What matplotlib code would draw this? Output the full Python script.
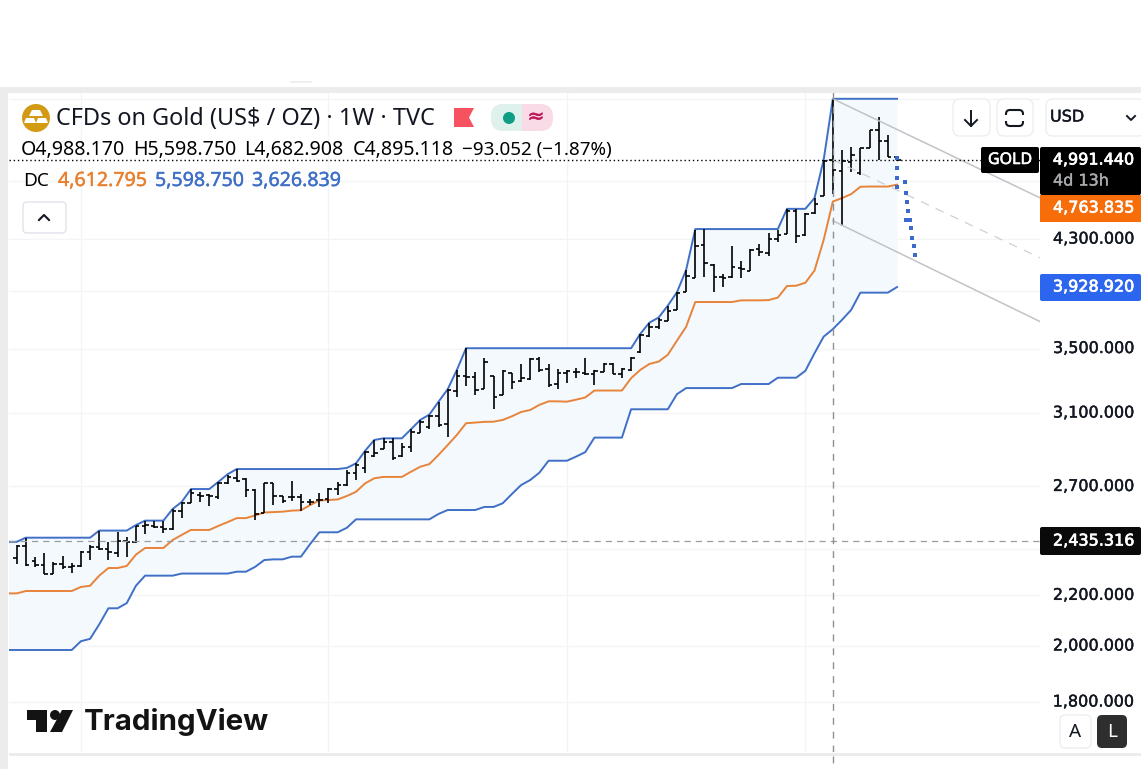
import numpy as np
import matplotlib
matplotlib.use("Agg")
import matplotlib.pyplot as plt
import matplotlib.patheffects as pe
from matplotlib.patches import Circle, FancyBboxPatch, Polygon, Rectangle

# weekly bars
opens = [2358, 2414, 2348, 2327, 2292, 2332, 2321, 2323, 2388, 2408,
         2400, 2384, 2435, 2433, 2505, 2507, 2501, 2493, 2578, 2619,
         2657, 2657, 2649, 2716, 2745, 2738, 2682, 2569, 2716, 2652,
         2645, 2645, 2620, 2632, 2635, 2685, 2707, 2768, 2794, 2860,
         2897, 2938, 2860, 2907, 2988, 3022, 3083, 3035, 3234, 3326,
         3320, 3242, 3324, 3207, 3345, 3293, 3305, 3432, 3368, 3272,
         3341, 3351, 3345, 3335, 3351, 3400, 3335, 3362, 3476, 3582,
         3648, 3687, 3764, 3891, 4000, 4249, 4096, 4003, 4003, 4075,
         4053, 4220, 4188, 4300, 4341, 4537, 4334, 4515, 4665, 4988,
         4890, 4970, 4868, 5103, 5275, 5176, 5014]
highs = [2418, 2452, 2363, 2384, 2341, 2367, 2336, 2392, 2420, 2485,
         2431, 2477, 2456, 2508, 2530, 2530, 2530, 2588, 2623, 2685,
         2670, 2662, 2724, 2759, 2790, 2745, 2685, 2716, 2719, 2654,
         2726, 2662, 2635, 2665, 2694, 2721, 2785, 2820, 2888, 2947,
         2956, 2956, 2929, 3007, 3060, 3091, 3167, 3242, 3362, 3502,
         3351, 3437, 3324, 3362, 3345, 3398, 3437, 3447, 3398, 3366,
         3362, 3373, 3437, 3362, 3404, 3404, 3376, 3447, 3598, 3675,
         3710, 3794, 3891, 4058, 4376, 4382, 4102, 4025, 4246, 4130,
         4220, 4259, 4349, 4376, 4549, 4549, 4515, 4645, 4992, 5599,
         5087, 5113, 5103, 5282, 5409, 5233, 5030]
lows = [2333, 2325, 2321, 2288, 2289, 2310, 2295, 2321, 2351, 2396,
        2351, 2366, 2366, 2426, 2467, 2496, 2475, 2488, 2545, 2616,
        2623, 2604, 2637, 2711, 2724, 2645, 2535, 2567, 2607, 2616,
        2628, 2580, 2607, 2598, 2616, 2657, 2702, 2733, 2771, 2856,
        2896, 2838, 2856, 2883, 2984, 3007, 3018, 2962, 3197, 3264,
        3207, 3242, 3122, 3207, 3244, 3288, 3299, 3351, 3258, 3244,
        3282, 3313, 3330, 3268, 3347, 3335, 3313, 3358, 3473, 3579,
        3630, 3687, 3764, 3891, 4000, 4007, 3891, 3933, 4000, 4000,
        4050, 4166, 4166, 4276, 4341, 4272, 4329, 4509, 4659, 4683,
        4409, 4883, 4847, 5103, 4992, 5014, 4976]
closes = [2414, 2329, 2327, 2289, 2333, 2319, 2323, 2388, 2411, 2402,
          2386, 2435, 2433, 2507, 2510, 2502, 2494, 2580, 2619, 2665,
          2654, 2652, 2719, 2750, 2729, 2682, 2564, 2716, 2652, 2628,
          2645, 2622, 2620, 2632, 2687, 2707, 2771, 2811, 2883, 2877,
          2938, 2850, 2910, 2993, 3050, 3083, 3031, 3238, 3324, 3320,
          3238, 3415, 3197, 3358, 3288, 3310, 3432, 3362, 3268, 3341,
          3353, 3347, 3337, 3358, 3398, 3335, 3368, 3441, 3591, 3643,
          3694, 3759, 3883, 4014, 4246, 4110, 4003, 3998, 4078, 4065,
          4214, 4196, 4300, 4334, 4537, 4326, 4509, 4595, 4985, 4895,
          4976, 5034, 5103, 5275, 5173, 5018, 4989]

# Donchian channel, one value more than the bars (starts left of the first bar)
dc_upper = [2433, 2433, 2452, 2452, 2452, 2452, 2452, 2452, 2452, 2452,
            2485, 2485, 2485, 2485, 2511, 2532, 2532, 2532, 2588, 2623,
            2687, 2687, 2687, 2724, 2763, 2790, 2790, 2790, 2790, 2790,
            2790, 2790, 2790, 2790, 2790, 2790, 2790, 2796, 2820, 2888,
            2947, 2956, 2956, 2956, 3007, 3060, 3091, 3167, 3242, 3362,
            3502, 3502, 3502, 3502, 3502, 3502, 3502, 3502, 3502, 3502,
            3502, 3502, 3502, 3502, 3502, 3502, 3502, 3502, 3502, 3598,
            3675, 3710, 3794, 3891, 4058, 4382, 4382, 4382, 4382, 4382,
            4382, 4382, 4382, 4382, 4382, 4552, 4552, 4552, 4645, 4992,
            5599, 5599, 5599, 5599, 5599, 5599, 5599, 5599]
dc_middle = [2208, 2208, 2218, 2218, 2218, 2218, 2218, 2218, 2235, 2240,
             2283, 2316, 2316, 2325, 2375, 2405, 2405, 2405, 2441, 2465,
             2488, 2488, 2488, 2507, 2525, 2544, 2544, 2557, 2571, 2573,
             2575, 2580, 2582, 2607, 2630, 2632, 2635, 2652, 2673, 2716,
             2742, 2749, 2749, 2749, 2776, 2802, 2816, 2865, 2919, 2975,
             3041, 3045, 3049, 3050, 3060, 3081, 3106, 3118, 3148, 3169,
             3169, 3167, 3179, 3192, 3234, 3234, 3234, 3234, 3310, 3362,
             3400, 3415, 3459, 3552, 3646, 3820, 3820, 3820, 3820, 3820,
             3832, 3832, 3832, 3834, 3852, 3937, 3939, 3961, 4053, 4294,
             4615, 4645, 4680, 4745, 4747, 4747, 4747, 4764]
dc_lower = [1985, 1985, 1985, 1985, 1985, 1985, 1985, 1985, 2018, 2027,
            2083, 2147, 2147, 2168, 2240, 2283, 2283, 2283, 2283, 2292,
            2292, 2292, 2292, 2292, 2292, 2300, 2300, 2321, 2351, 2354,
            2354, 2366, 2366, 2423, 2477, 2477, 2477, 2498, 2538, 2538,
            2538, 2538, 2538, 2538, 2538, 2538, 2538, 2564, 2583, 2583,
            2583, 2583, 2598, 2598, 2616, 2662, 2707, 2733, 2771, 2834,
            2834, 2834, 2856, 2880, 2960, 2960, 2960, 2960, 3122, 3122,
            3122, 3122, 3122, 3212, 3249, 3249, 3249, 3249, 3249, 3249,
            3274, 3274, 3274, 3274, 3313, 3313, 3313, 3356, 3469, 3579,
            3630, 3694, 3764, 3888, 3888, 3888, 3888, 3929]

# falling channel drawn on the chart, first and last week
channel_weeks = [89, 111.6]
channel_top = [5599, 4647]
channel_mid = [4992, 4151]
channel_bottom = [4451, 3682]

# hand drawn projection (dotted blue)
path_weeks = [96.03, 96.03, 96.03, 96.05, 96.87, 97.0, 97.07, 97.15, 97.03,
              97.38, 97.5, 97.6, 97.8, 97.92]
path_prices = [5011, 4918, 4826, 4745, 4788, 4691, 4613, 4534, 4459,
               4459, 4393, 4310, 4246, 4174]

grid_prices = [1800, 2000, 2200, 2400, 2700, 3100, 3500, 3900, 4300, 4800, 5600]
grid_weeks = [7, 34, 60, 86]
tick_prices = [4300, 3500, 3100, 2700, 2200, 2000, 1800]
last_price = 4991.44
cross_price = 2435.316
cross_week = 89

BLUE = "#3f6fc6"
ORANGE = "#e8833a"
GRID = "#f2f4f7"
UI_FONT = "Noto Sans"
AXIS_FONT = "DejaVu Sans"

weeks = np.arange(len(opens))
dc_weeks = np.arange(-1, len(opens))

fig = plt.figure(figsize=(11.41, 7.69), dpi=100, facecolor="white")

# pane is 9..1040 px wide, 92..752 px high
ax = fig.add_axes([9 / 1141, 1 - 752 / 769, 1031 / 1141, 660 / 769])
ax.set_yscale("log")
ax.set_xlim(-0.84, 111.59)
ax.set_ylim(1638.4, 5671)
ax.set_xticks([])
ax.set_yticks([])
ax.minorticks_off()
for spine in ax.spines.values():
    spine.set_visible(False)

for p in grid_prices:
    ax.axhline(p, color=GRID, lw=0.9, zorder=1)
for w in grid_weeks:
    ax.axvline(w, color=GRID, lw=0.9, zorder=1)

ax.fill_between(dc_weeks, dc_lower, dc_upper, color="#f3f9fd", lw=0, zorder=2)
ax.plot(dc_weeks, dc_upper, color=BLUE, lw=1.4, zorder=3)
ax.plot(dc_weeks, dc_lower, color=BLUE, lw=1.4, zorder=3)
ax.plot(dc_weeks, dc_middle, color=ORANGE, lw=1.4, zorder=3)

ax.vlines(weeks, lows, highs, color="black", lw=1.2, zorder=4)
ax.hlines(opens, weeks - 0.38, weeks, color="black", lw=1.2, zorder=4)
ax.hlines(closes, weeks, weeks + 0.38, color="black", lw=1.2, zorder=4)

ax.plot(channel_weeks, channel_top, color="#c2c3c6", lw=1.1, zorder=5)
ax.plot(channel_weeks, channel_bottom, color="#c2c3c6", lw=1.1, zorder=5)
ax.plot(channel_weeks, channel_mid, color="#cfd0d3", lw=0.9, ls=(0, (7, 6)), zorder=5)

ax.plot(path_weeks, path_prices, ls="none", marker="s", ms=3.0, color="#3a6acb", mew=0, zorder=6)

ax.axhline(last_price, color="black", lw=1, ls=(0, (1, 2)), zorder=5)
ax.axhline(cross_price, color="#9a9ca1", lw=0.9, ls=(0, (5, 4)), zorder=5)
ax.axvline(cross_week, color="#8f9196", lw=1, ls=(0, (5, 5)), zorder=5)

# window chrome, badges and legend in pixel coordinates
ui = fig.add_axes([0, 0, 1, 1])
ui.set_xlim(0, 1141)
ui.set_ylim(769, 0)
ui.axis("off")
ui.patch.set_alpha(0)


def box(x0, y0, x1, y1, fc, ec="none", r=0.0, lw=1.0):
    if r:
        patch = FancyBboxPatch((x0 + r, y0 + r), x1 - x0 - 2 * r, y1 - y0 - 2 * r,
                               boxstyle=f"round,pad={r},rounding_size={r}",
                               fc=fc, ec=ec, lw=lw)
    else:
        patch = Rectangle((x0, y0), x1 - x0, y1 - y0, fc=fc, ec=ec, lw=lw)
    ui.add_patch(patch)


def label(x, y, s, px, color="black", ha="left", font=UI_FONT, weight="normal", stroke=0.0):
    t = ui.text(x, y, s, fontsize=px * 0.72, color=color, ha=ha, va="center",
                family=font, fontweight=weight)
    if stroke:
        t.set_path_effects([pe.withStroke(linewidth=stroke, foreground=color)])


box(0, 87, 1141, 93, "#ececec")
box(0, 93, 8, 769, "#ececec")
box(9, 753, 1141, 756, "#ececec")
box(290, 81, 312, 83, "#efefef")
ui.plot([833, 833], [756, 769], color="#8f9196", lw=1, ls=(0, (5, 5)))

# title row
ui.add_patch(Circle((36, 118), 14, fc="#d39a14", ec="none"))
ui.add_patch(Polygon([[32, 110], [40, 110], [43, 116], [29, 116]], fc="white", ec="none"))
ui.add_patch(Polygon([[26, 118], [34, 118], [36, 123], [24, 123]], fc="white", ec="none"))
ui.add_patch(Polygon([[38, 118], [46, 118], [48, 123], [36, 123]], fc="white", ec="none"))
label(56, 119, "CFDs on Gold (US$ / OZ) · 1W · TVC", 23.5, "#131722")
ui.add_patch(Polygon([[454, 108], [474, 108], [469, 117.5], [474, 127], [454, 127]],
                     fc="#f7525f", ec="none"))
box(491, 104, 553, 131, "#f8dbe6", r=13)
box(491, 104, 522, 131, "#dff1ec", r=13)
box(510, 104, 522, 131, "#dff1ec")
ui.add_patch(Circle((509, 118), 6, fc="#0f9d84", ec="none"))
label(536, 117, "≈", 20, "#c2185b", ha="center", font="DejaVu Sans", stroke=0.4)

# OHLC row
label(21, 150, "O4,988.170", 19.6)
label(133, 150, "H5,598.750", 19.6)
label(244, 150, "L4,682.908", 19.6)
label(353, 150, "C4,895.118", 19.6)
label(462, 150, "−93.052 (−1.87%)", 18.8)

# indicator row
label(23, 181, "DC", 19)
label(58, 181, "4,612.795", 19.6, "#e8802f", stroke=0.3)
label(155, 181, "5,598.750", 19.6, "#3f6fc6", stroke=0.3)
label(252, 181, "3,626.839", 19.6, "#3f6fc6", stroke=0.3)

box(23, 202, 66, 233, "white", ec="#e0e3eb", r=4)
ui.plot([39, 44, 49], [220, 215, 220], color="#131722", lw=1.5)

# top right buttons
box(953, 99, 990, 136, "white", ec="#eceef2", r=7)
ui.plot([971, 971], [111, 126], color="#131722", lw=1.4)
ui.plot([965, 971, 977], [120, 126, 120], color="#131722", lw=1.4)
box(997, 99, 1033, 136, "white", ec="#eceef2", r=7)
box(1006, 110, 1023, 126, "white", ec="#131722", r=4, lw=1.5)
box(1003, 115, 1026, 121, "white")
box(1046, 99, 1145, 136, "white", ec="#eceef2", r=7)
label(1050, 117, "USD", 16, "#131722", font=AXIS_FONT, stroke=0.3)
ui.plot([1127, 1131, 1135], [116, 120, 116], color="#131722", lw=1.4)

# price axis
for p in tick_prices:
    y = 702 - np.log(p / 1800) * 531.6
    label(1134, y, f"{p:,.3f}", 16, "#131722", ha="right", font=AXIS_FONT, stroke=0.3)

box(981, 147, 1039, 173, "black", r=2)
label(1010, 160, "GOLD", 16, "white", ha="center", stroke=0.4)
box(1040, 147, 1141, 195, "black", r=2)
label(1134, 160, "4,991.440", 16, "white", ha="right", font=AXIS_FONT, stroke=0.5)
label(1053, 181, "4d 13h", 16, "#a8aaae", font=AXIS_FONT, stroke=0.3)
box(1040, 195, 1141, 222, "#f76d0a")
label(1134, 208, "4,763.835", 16, "white", ha="right", font=AXIS_FONT, stroke=0.5)
box(1040, 274, 1141, 301, "#2d66ee", r=2)
label(1134, 287, "3,928.920", 16, "white", ha="right", font=AXIS_FONT, stroke=0.5)
box(1040, 527, 1141, 555, "#0a0a0a", r=2)
label(1134, 541, "2,435.316", 16, "white", ha="right", font=AXIS_FONT, stroke=0.5)

# scale buttons
box(1060, 715, 1091, 748, "white", ec="#eceef2", r=5)
label(1075.5, 732, "A", 19, "#131722", ha="center")
box(1097, 715, 1127, 748, "#2e2e2e", r=5)
label(1112, 732, "L", 19, "white", ha="center")

# TradingView logo
ui.add_patch(Polygon([[27, 710], [47, 710], [47, 732], [36, 732], [36, 720], [27, 720]],
                     fc="#131313", ec="none"))
ui.add_patch(Circle((55, 715), 5, fc="#131313", ec="none"))
ui.add_patch(Polygon([[62, 710], [73, 710], [62, 732], [50, 732]], fc="#131313", ec="none"))
label(84, 722, "TradingView", 29.5, "#131313", font="Inter", weight="bold")

fig.savefig("out.png", dpi=100)
